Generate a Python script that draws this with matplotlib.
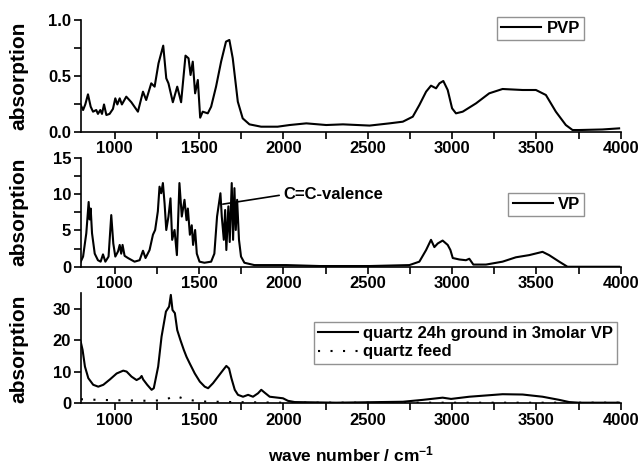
import matplotlib
matplotlib.use("Agg")
import matplotlib.pyplot as plt
from matplotlib.ticker import MultipleLocator, FormatStrFormatter

plt.rcParams['font.family'] = ['Liberation Sans', 'DejaVu Sans']
plt.rcParams['font.weight'] = 'bold'
plt.rcParams['mathtext.fontset'] = 'custom'
plt.rcParams['mathtext.rm'] = 'Liberation Sans:bold'
plt.rcParams['mathtext.bf'] = 'Liberation Sans:bold'
plt.rcParams['mathtext.default'] = 'regular'

# PVP spectrum
pvp_wn = [799, 813, 826, 842, 858, 872, 891, 901, 915, 925, 937, 951, 970, 990, 1004,
          1016, 1030, 1043, 1069, 1099, 1138, 1168, 1187, 1217, 1237, 1260, 1288, 1306,
          1319, 1345, 1371, 1394, 1420, 1438, 1450, 1463, 1477, 1493, 1507, 1522, 1552,
          1572, 1601, 1631, 1660, 1680, 1700, 1730, 1759, 1799, 1868, 1966, 2037, 2136,
          2254, 2353, 2511, 2629, 2708, 2767, 2806, 2846, 2875, 2905, 2925, 2948, 2974,
          3000, 3023, 3063, 3142, 3220, 3299, 3418, 3497, 3556, 3615, 3674, 3714, 3753,
          3891, 3990]
pvp_abs = [0.24, 0.195, 0.245, 0.336, 0.225, 0.18, 0.195, 0.16, 0.195, 0.16, 0.245, 0.15,
           0.16, 0.205, 0.30, 0.245, 0.30, 0.245, 0.315, 0.265, 0.18, 0.36, 0.285, 0.435,
           0.405, 0.615, 0.774, 0.48, 0.435, 0.265, 0.405, 0.265, 0.684, 0.66, 0.51, 0.63,
           0.345, 0.465, 0.126, 0.18, 0.165, 0.225, 0.405, 0.63, 0.81, 0.825, 0.66, 0.27,
           0.12, 0.066, 0.045, 0.045, 0.06, 0.075, 0.06, 0.066, 0.055, 0.075, 0.09, 0.135,
           0.24, 0.36, 0.414, 0.39, 0.435, 0.456, 0.375, 0.21, 0.165, 0.18, 0.255, 0.345,
           0.384, 0.375, 0.375, 0.33, 0.18, 0.06, 0.015, 0.015, 0.02, 0.03]

# VP spectrum
vp_wn = [799, 813, 832, 846, 852, 858, 866, 882, 901, 917, 931, 945, 964, 980, 992, 1004,
         1020, 1030, 1039, 1047, 1059, 1079, 1118, 1148, 1168, 1183, 1207, 1227, 1240,
         1256, 1266, 1276, 1286, 1296, 1306, 1319, 1331, 1341, 1355, 1369, 1384, 1398,
         1414, 1426, 1434, 1446, 1457, 1465, 1477, 1487, 1503, 1532, 1572, 1591, 1607,
         1627, 1635, 1647, 1655, 1662, 1674, 1682, 1694, 1702, 1710, 1718, 1726, 1737,
         1749, 1769, 1828, 1966, 2018, 2215, 2511, 2747, 2806, 2846, 2875, 2895, 2915,
         2944, 2974, 2990, 3004, 3043, 3082, 3102, 3126, 3201, 3299, 3378, 3457, 3536,
         3575, 3635, 3684, 3990]
vp_abs = [0.69, 1.4, 4.6, 8.9, 6.5, 8.0, 4.6, 1.8, 0.9, 0.7, 1.7, 0.7, 1.4, 7.1, 3.2, 1.4,
          2.1, 3.0, 1.8, 3.0, 1.5, 1.2, 0.7, 0.9, 2.2, 1.2, 2.3, 4.4, 5.05, 7.6, 11.0, 10.1,
          11.5, 8.7, 5.05, 6.9, 9.4, 3.7, 5.05, 1.6, 11.5, 6.9, 9.2, 6.4, 8.0, 4.4, 5.7,
          3.0, 5.05, 1.8, 0.7, 0.55, 0.7, 1.8, 6.9, 10.1, 6.9, 3.7, 7.8, 2.3, 8.3, 3.4,
          11.5, 3.7, 10.8, 5.05, 9.2, 3.7, 1.4, 0.55, 0.23, 0.23, 0.23, 0.1, 0.1, 0.23,
          0.7, 2.3, 3.7, 2.7, 3.2, 3.6, 3.0, 2.3, 1.2, 1.0, 0.9, 1.1, 0.3, 0.3, 0.7, 1.3,
          1.6, 2.05, 1.6, 0.7, 0.0, 0.0]

# quartz ground 24h in 3 molar VP
qz_wn = [799, 810, 824, 844, 873, 903, 933, 972, 1012, 1051, 1071, 1100, 1130, 1150, 1160,
         1169, 1193, 1219, 1232, 1258, 1278, 1304, 1323, 1333, 1343, 1357, 1371, 1390,
         1410, 1426, 1445, 1475, 1505, 1534, 1554, 1583, 1613, 1643, 1662, 1678, 1692,
         1712, 1731, 1761, 1791, 1820, 1850, 1869, 1889, 1919, 1998, 2027, 2067, 2313,
         2708, 2826, 2944, 2994, 3102, 3299, 3418, 3536, 3635, 3694, 3753, 3990]
qz_abs = [19.6, 17.0, 11.7, 8.0, 5.9, 5.3, 5.9, 7.6, 9.5, 10.4, 10.1, 8.5, 7.4, 8.0, 8.7,
          7.6, 5.9, 4.3, 4.8, 11.7, 21.2, 29.2, 30.8, 34.5, 29.7, 28.7, 23.3, 20.1, 17.0,
          14.8, 12.7, 9.5, 6.9, 5.3, 4.8, 6.4, 8.5, 10.6, 11.9, 11.1, 8.0, 4.3, 2.7, 2.1,
          2.7, 2.1, 3.2, 4.3, 3.4, 2.1, 1.6, 0.8, 0.4, 0.2, 0.5, 1.1, 1.8, 1.4, 2.1, 2.9,
          2.8, 2.1, 1.1, 0.4, 0.2, 0.2]

# quartz feed
feed_wn = [800, 900, 1000, 1100, 1200, 1300, 1350, 1380, 1420, 1500, 1700, 2000, 3000, 4000]
feed_abs = [1.3, 1.1, 1.0, 0.9, 0.8, 1.0, 2.4, 2.0, 1.3, 0.6, 0.4, 0.2, 0.2, 0.2]

fig = plt.figure(figsize=(6.42, 4.68), dpi=100)
ax1 = fig.add_axes([0.126, 0.7186, 0.841, 0.2376])
ax2 = fig.add_axes([0.126, 0.430, 0.841, 0.2333])
ax3 = fig.add_axes([0.126, 0.1382, 0.841, 0.235])

ax1.plot(pvp_wn, pvp_abs, color='black', lw=1.5, label='PVP')
ax2.plot(vp_wn, vp_abs, color='black', lw=1.5, label='VP')
ax3.plot(qz_wn, qz_abs, color='black', lw=1.5, label='quartz 24h ground in 3molar VP')
ax3.plot(feed_wn, feed_abs, color='black', lw=1.5, linestyle=(0, (1, 5)), label='quartz feed')

ax1.set_ylim(0, 1.0)
ax1.yaxis.set_major_locator(MultipleLocator(0.5))
ax1.yaxis.set_minor_locator(MultipleLocator(0.25))
ax1.yaxis.set_major_formatter(FormatStrFormatter('%.1f'))
ax2.set_ylim(0, 15)
ax2.yaxis.set_major_locator(MultipleLocator(5))
ax2.yaxis.set_minor_locator(MultipleLocator(2.5))
ax3.set_ylim(0, 35)
ax3.yaxis.set_major_locator(MultipleLocator(10))

for ax in (ax1, ax2, ax3):
    ax.set_xlim(800, 4000)
    ax.xaxis.set_major_locator(MultipleLocator(500))
    ax.xaxis.set_minor_locator(MultipleLocator(250))
    ax.spines['top'].set_visible(False)
    ax.spines['right'].set_visible(False)
    ax.spines['left'].set_linewidth(1.2)
    ax.spines['bottom'].set_linewidth(1.2)
    ax.tick_params(which='both', direction='out', width=1.2, labelsize=12, pad=2)
    ax.tick_params(which='major', length=5)
    ax.tick_params(which='minor', length=5)
    ax.set_ylabel('absorption', fontsize=15, fontweight='bold')
    ax.yaxis.set_label_coords(-0.098, 0.5)
    ax.patch.set_alpha(0)

ax3.set_xlabel('wave number / cm$^{-1}$', fontsize=12.5, fontweight='bold', labelpad=12)

ax2.annotate('C=C-valence', xy=(1641, 8.6), xytext=(2000, 9.9), fontsize=12,
             fontweight='bold', ha='left', va='center',
             arrowprops=dict(arrowstyle='-', color='black', lw=1.2,
                             shrinkA=1, shrinkB=0, relpos=(0, 0.5)))

leg_kw = dict(loc='upper right', bbox_transform=fig.transFigure, borderaxespad=0,
              fontsize=12, handlelength=2.4, handletextpad=0.3, borderpad=0.25,
              fancybox=False, labelspacing=0.2)
for ax, anchor in ((ax1, (0.9097, 0.9643)), (ax2, (0.9097, 0.5876)), (ax3, (0.961, 0.312))):
    leg = ax.legend(bbox_to_anchor=anchor, **leg_kw)
    leg.get_frame().set_edgecolor('#777777')
    leg.get_frame().set_linewidth(1.0)

fig.savefig('out.png', dpi=100)
